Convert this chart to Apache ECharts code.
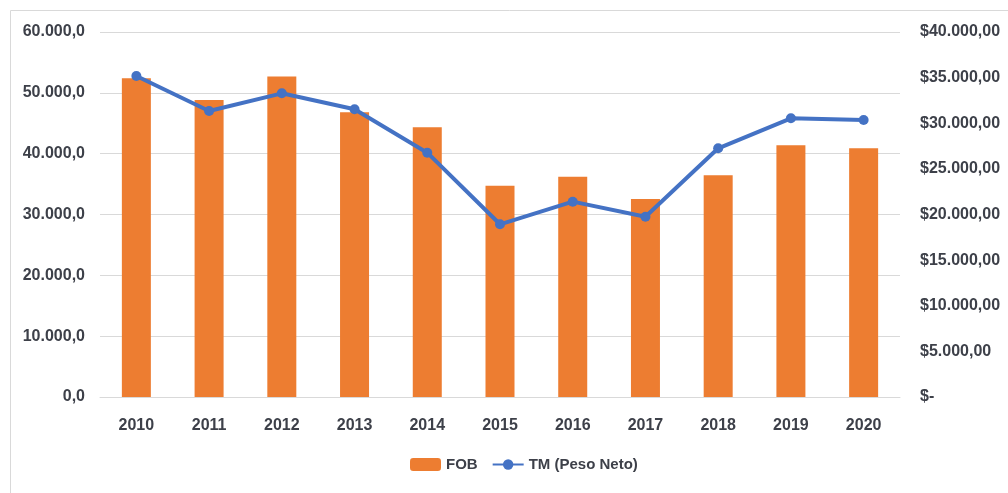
<!DOCTYPE html>
<html>
<head>
<meta charset="utf-8">
<script src="https://cdn.jsdelivr.net/npm/echarts@6/dist/echarts.min.js"></script>
<style>
  html, body { margin: 0; padding: 0; background: #fff; }
  #chart { width: 1008px; height: 493px; }
</style>
</head>
<body>
<div id="chart"></div>
<script>
// categorias
const years = ["2010", "2011", "2012", "2013", "2014", "2015", "2016", "2017", "2018", "2019", "2020"];
// FOB (eje derecho, $)
const fobValues = [34930, 32550, 35110, 31200, 29550, 23160, 24150, 21700, 24290, 27590, 27250];
// TM (Peso Neto) (eje izquierdo)
const tmValues = [52770, 47020, 49920, 47290, 40160, 28390, 32110, 29640, 40880, 45810, 45540];

const FONT = "'Liberation Sans Narrow', 'Liberation Sans', sans-serif";
const TEXT_COLOR = "#3d4049";

function thousands(n) {
  return String(Math.round(n)).replace(/\B(?=(\d{3})+(?!\d))/g, ".");
}

const chart = echarts.init(document.getElementById("chart"));

const option = {
  animation: false,
  graphic: [
    {
      type: "rect",
      shape: { x: 10.5, y: 10.5, width: 1100, height: 600 },
      style: { fill: "none", stroke: "#d9d9d9", lineWidth: 1 },
      silent: true
    }
  ],
  grid: { left: 100, right: 108, top: 32, bottom: 96 },
  legend: {
    bottom: 16,
    left: 405,
    itemWidth: 31,
    itemHeight: 13,
    itemGap: 14,
    textStyle: { color: TEXT_COLOR, fontFamily: FONT, fontSize: 15, fontWeight: "bold" },
    data: [{ name: "FOB" }, { name: "TM (Peso Neto)" }]
  },
  xAxis: {
    type: "category",
    data: years,
    axisLine: { lineStyle: { color: "#d9d9d9", width: 1 } },
    axisTick: { show: false },
    axisLabel: { color: TEXT_COLOR, fontFamily: FONT, fontSize: 16, fontWeight: "bold", margin: 21 }
  },
  yAxis: [
    {
      type: "value",
      min: 0,
      max: 60000,
      interval: 10000,
      axisLine: { show: false },
      axisTick: { show: false },
      splitLine: { lineStyle: { color: "#d9d9d9", width: 1 } },
      axisLabel: {
        color: TEXT_COLOR, fontFamily: FONT, fontSize: 16, fontWeight: "bold", margin: 15,
        formatter: (v) => thousands(v) + ",0"
      }
    },
    {
      type: "value",
      min: 0,
      max: 40000,
      interval: 5000,
      axisLine: { show: false },
      axisTick: { show: false },
      splitLine: { show: false },
      axisLabel: {
        color: TEXT_COLOR, fontFamily: FONT, fontSize: 16, fontWeight: "bold", margin: 20,
        formatter: (v) => (v === 0 ? "$-" : "$" + thousands(v) + ",00")
      }
    }
  ],
  series: [
    {
      name: "FOB",
      type: "bar",
      yAxisIndex: 1,
      data: fobValues,
      barWidth: 29,
      itemStyle: { color: "#ED7D31" }
    },
    {
      name: "TM (Peso Neto)",
      type: "line",
      yAxisIndex: 0,
      data: tmValues,
      symbol: "circle",
      symbolSize: 10,
      itemStyle: { color: "#4472C4" },
      lineStyle: { color: "#4472C4", width: 4 }
    }
  ]
};

chart.setOption(option);
</script>
</body>
</html>
